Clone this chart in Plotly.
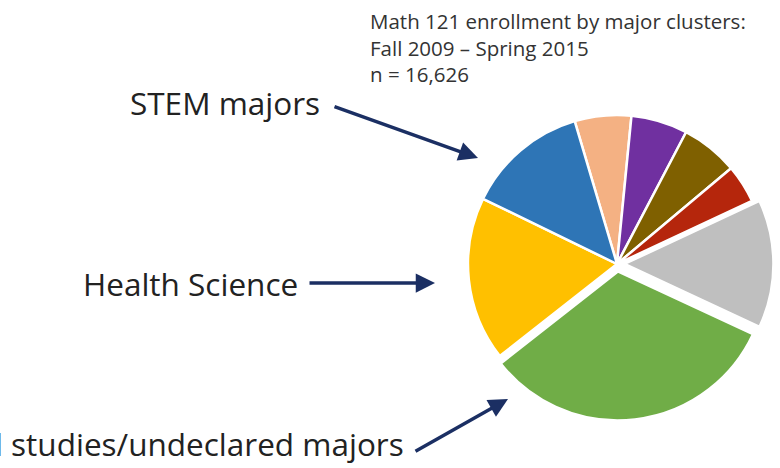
import plotly.graph_objects as go

# Slice order clockwise starting from the peach slice near 12 o'clock
clusters = ["Cluster A", "Cluster B", "Cluster C", "Cluster D", "Other",
            "General studies/undeclared majors", "Health Science", "STEM majors"]
counts = [1020, 1020, 1030, 690, 2310, 5400, 2960, 2196]
colors = ["#F4B183", "#7030A0", "#7F6000", "#B5260C", "#BFBFBF",
          "#70AD47", "#FFC000", "#2E75B6"]
pulls = [0, 0, 0, 0, 0.05, 0.05, 0, 0]

title_lines = ["Math 121 enrollment by major clusters:",
               "Fall 2009 \u2013 Spring 2015",
               "n = 16,626"]

W, H = 780, 468
cx, cy, R = 617, 264, 149
maxpull = max(pulls)
half = R * (1 + maxpull)

fig = go.Figure()
fig.add_trace(go.Pie(
    labels=clusters, values=counts, sort=False, direction="clockwise",
    rotation=-16.5, pull=pulls, textinfo="none", hoverinfo="label+value",
    marker=dict(colors=colors, line=dict(color="white", width=2.5)),
    domain=dict(x=[(cx - half) / W, (cx + half) / W],
                y=[1 - (cy + half) / H, 1 - (cy - half) / H]),
    showlegend=False,
))

fig.update_layout(
    width=W, height=H, margin=dict(l=0, r=0, t=0, b=0),
    paper_bgcolor="white", plot_bgcolor="rgba(0,0,0,0)",
    xaxis=dict(range=[0, W], visible=False, fixedrange=True, domain=[0, 1]),
    yaxis=dict(range=[H, 0], visible=False, fixedrange=True, domain=[0, 1]),
    font=dict(family="'Open Sans', Lato, sans-serif", color="#262626"),
)

fig.add_annotation(x=368, y=47, xref="x", yref="y", text="<br>".join(title_lines),
                   showarrow=False, xanchor="left", yanchor="middle", align="left",
                   font=dict(size=20.5, color="#333333"))

labels_txt = [("STEM majors", 322, 102), ("Health Science", 300, 283),
              ("General studies/undeclared majors", 406, 443)]
for t, x, y in labels_txt:
    fig.add_annotation(x=x, y=y, xref="x", yref="y", text=t, showarrow=False,
                       xanchor="right", yanchor="middle",
                       font=dict(size=31.5, color="#222222"))

arrows = [((333, 106), (478, 158)), ((308, 283), (435, 283)), ((414, 452), (508, 399))]
for (tx, ty), (hx, hy) in arrows:
    fig.add_annotation(x=hx, y=hy, ax=tx, ay=ty, xref="x", yref="y",
                       axref="x", ayref="y", text="", showarrow=True,
                       arrowhead=2, arrowsize=1.1, arrowwidth=3.5,
                       arrowcolor="#1B2F63")

fig.write_html("out.html")
